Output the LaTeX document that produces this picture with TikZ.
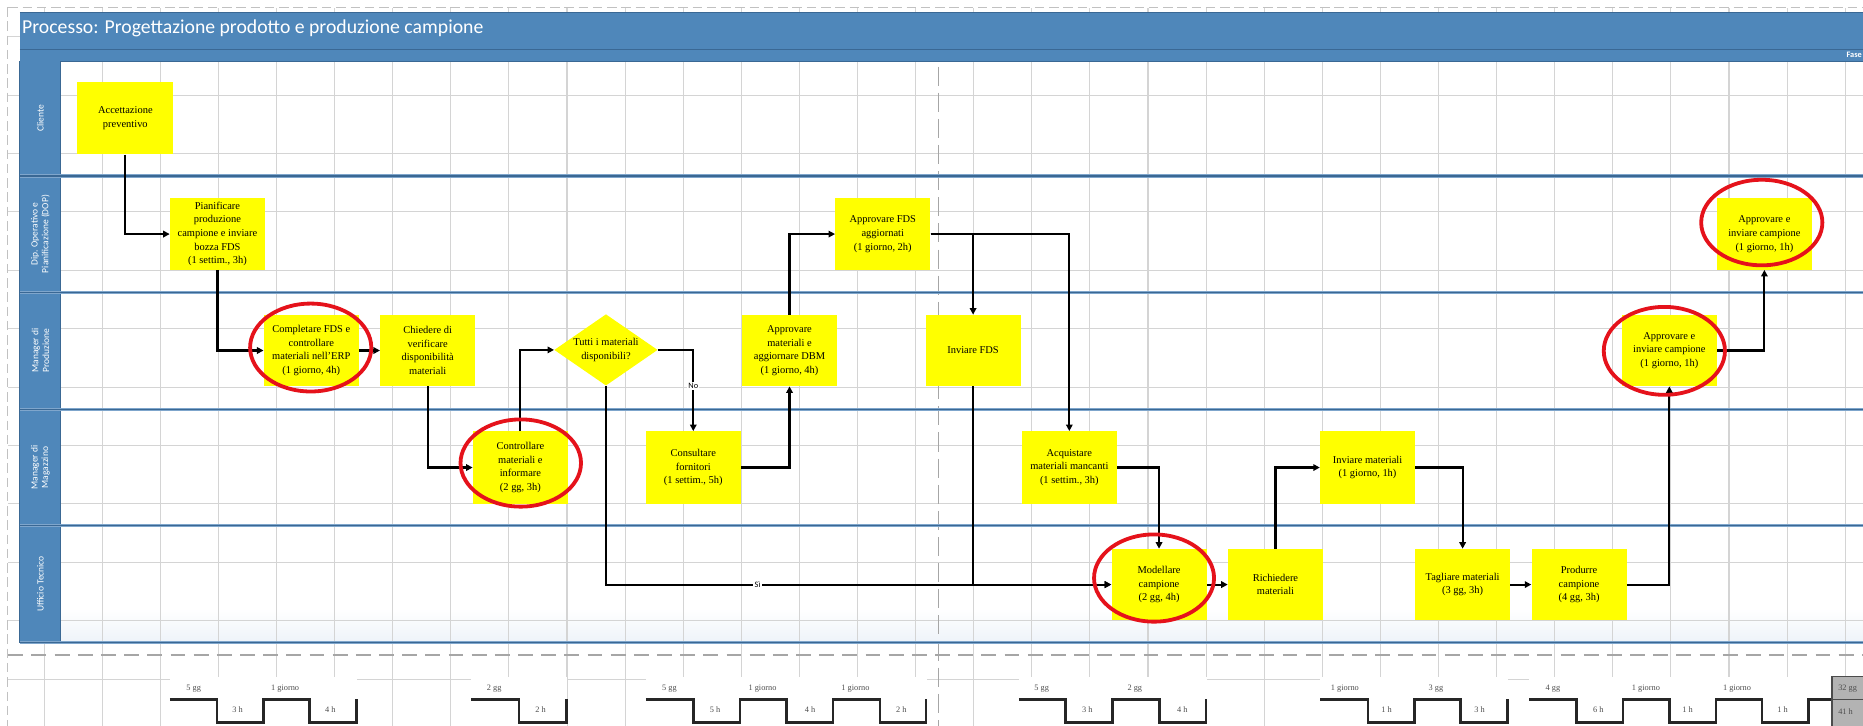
\documentclass[tikz,border=0pt]{standalone}
\usepackage{fontspec}
\setmainfont{Liberation Serif}
\newfontfamily\titlefont{Carlito}
\usetikzlibrary{arrows.meta,shapes.geometric}

\definecolor{hdrblue}{HTML}{4F87BA}
\definecolor{hdrdark}{HTML}{3A6894}
\definecolor{lanelight}{HTML}{7FA6CC}
\definecolor{gridgray}{HTML}{D4D4D4}
\definecolor{dashgray}{HTML}{A6A6A6}
\definecolor{boxyellow}{HTML}{FFFF00}
\definecolor{ringred}{HTML}{E5121B}
\definecolor{tlgray}{HTML}{B3B3B3}
\definecolor{tltext}{HTML}{4D4D4D}
\definecolor{lanefade}{HTML}{EEF3F9}

\tikzset{
  task/.style={fill=boxyellow, inner sep=0pt, minimum width=80pt, minimum height=60pt,
    align=center, font=\fontsize{8.8}{11.5}\selectfont},
  decision/.style={diamond, fill=boxyellow, inner sep=0pt, minimum width=87pt, minimum height=60pt},
  dtext/.style={align=center, inner sep=0pt, font=\fontsize{8.8}{12.5}\selectfont},
  flow/.style={draw=black, line width=1.8pt, line join=miter, -{Triangle[length=5.5pt,width=5.5pt]}},
  ring/.style={draw=ringred, line width=3.2pt},
  lanelabel/.style={rotate=90, text=white, inner sep=0pt, align=center,
    font=\titlefont\fontsize{8}{9}\selectfont},
  edgelabel/.style={fill=white, inner sep=1pt, font=\titlefont\fontsize{7}{8}\selectfont},
  tllabel/.style={inner sep=0pt, text=tltext, font=\fontsize{7}{8}\selectfont},
  wave/.style={draw=black!85, line width=2.2pt, line join=miter},
  gridline/.style={draw=gridgray, line width=0.9pt},
  lanesep/.style={draw=lanelight, line width=2.8pt},
  lanecore/.style={draw=hdrdark, line width=1.1pt},
}

\begin{document}
\begin{tikzpicture}[x=1pt,y=-1pt]
\useasboundingbox (0,0) rectangle (1568,611);
\clip (0,0) rectangle (1568,611);
\fill[white] (0,0) rectangle (1568,611);

% fade at bottom of last lane
\shade[top color=white, bottom color=lanefade] (51,512) rectangle (1580,541);

% grid
\foreach \k in {0,...,31} \draw[gridline] ({37.1+48.9*\k},7) -- ({37.1+48.9*\k},611);
\foreach \k in {0,...,11} \draw[gridline] (7,{30.9+49.15*\k}) -- (1568,{30.9+49.15*\k});

% page break lines
\draw[dashgray!70, line width=0.8pt, dash pattern=on 8pt off 4pt] (7,6) -- (1568,6);
\draw[dashgray!70, line width=0.8pt, dash pattern=on 8pt off 4pt] (6.7,6) -- (6.7,611);

% phase separator and bottom dashed line
\draw[dashgray, line width=1.2pt, dash pattern=on 16pt off 6pt] (790,56) -- (790,611);
\draw[dashgray, line width=1.5pt, dash pattern=on 12.5pt off 7pt] (7,551.4) -- (1568,551.4);

% title bar
\fill[hdrblue] (16.7,10.4) rectangle (1580,51.4);
\draw[hdrdark, line width=0.8pt] (16.7,10.4) -- (1580,10.4);
\draw[hdrdark, line width=0.8pt] (16.7,42) -- (1580,42);
\draw[hdrdark, line width=0.8pt] (16.7,51.4) -- (1580,51.4);
\node[anchor=base west, inner sep=0pt, text=white, font=\titlefont\fontsize{16.6}{18}\selectfont] (title) at (18.5,28.5)
  {Processo: Progettazione prodotto e produzione campione};
\node[anchor=west, inner sep=0pt, text=white, font=\titlefont\bfseries\fontsize{7}{8}\selectfont] (fase) at (1554,46.5) {Fase};

% lane column
\fill[hdrblue] (16.7,51.4) rectangle (51,541);
\draw[hdrdark, line width=0.8pt] (16.7,51.4) -- (16.7,541);
\draw[hdrdark, line width=0.8pt] (51,51.4) -- (51,541);

% lane separators
\foreach \yy in {148,246.4,344.5,442.5,541} {
  \draw[lanesep] (16.7,\yy) -- (1580,\yy);
  \draw[lanecore] (16.7,\yy) -- (1580,\yy);
}

% lane labels
\node[lanelabel] (lCli) at (34,99.5) {Cliente};
\node[lanelabel] (lDop) at (34,197) {Dip. Operativo e\\Pianificazione (DOP)};
\node[lanelabel] (lMp) at (34,295) {Manager di\\Produzione};
\node[lanelabel] (lMm) at (34,393.5) {Manager di\\Magazzino};
\node[lanelabel] (lUt) at (34,491.5) {Ufficio Tecnico};

% timeline backgrounds
\fill[white] (143,569.6) rectangle (300.5,611);
\fill[white] (396.7,569.6) rectangle (477.5,611);
\fill[white] (543.5,569.6) rectangle (780.5,611);
\fill[white] (857.5,569.6) rectangle (1016,611);
\fill[white] (1111.3,569.6) rectangle (1269.5,611);
\fill[white] (1287,569.6) rectangle (1542,611);

% waveforms
\draw[wave] (143,588.6) -| (182.7,608.3) -| (221.7,588.6) -| (260.7,608.3) -| (300,588.6);
\draw[wave] (396.7,588.6) -| (436.7,608.3) -| (476.7,588.6);
\draw[wave] (543.5,588.6) -| (583.5,608.3) -| (622.8,588.6) -| (661.8,608.3) -| (701.1,588.6) -| (740.8,608.3) -| (779.5,588.6);
\draw[wave] (857.5,588.6) -| (896.8,608.3) -| (936.1,588.6) -| (975.8,608.3) -| (1015.1,588.6);
\draw[wave] (1111.3,588.6) -| (1151.3,608.3) -| (1190.3,588.6) -| (1229.3,608.3) -| (1268.6,588.6);
\draw[wave] (1287,588.6) -| (1327,608.3) -| (1366,588.6) -| (1405.3,608.3) -| (1444.3,588.6) -| (1483,608.3) -| (1522,588.6) -- (1545,588.6);

% timeline labels
\node[tllabel] (w1) at (163,579.4) {5 gg};
\node[tllabel] (w2) at (200,597.6) {3 h};
\node[tllabel] (w3) at (240,579.4) {1 giorno};
\node[tllabel] (w4) at (278,597.6) {4 h};
\node[tllabel] (w5) at (416,579.4) {2 gg};
\node[tllabel] (w6) at (455,597.6) {2 h};
\node[tllabel] (w7) at (563.5,579.4) {5 gg};
\node[tllabel] (w8) at (601.8,597.6) {5 h};
\node[tllabel] (w9) at (641.8,579.4) {1 giorno};
\node[tllabel] (w10) at (681.8,597.6) {4 h};
\node[tllabel] (w11) at (720,579.4) {1 giorno};
\node[tllabel] (w12) at (758.5,597.6) {2 h};
\node[tllabel] (w13) at (876.8,579.4) {5 gg};
\node[tllabel] (w14) at (915.1,597.6) {3 h};
\node[tllabel] (w15) at (955.1,579.4) {2 gg};
\node[tllabel] (w16) at (995.1,597.6) {4 h};
\node[tllabel] (w17) at (1131.9,579.4) {1 giorno};
\node[tllabel] (w18) at (1167,597.6) {1 h};
\node[tllabel] (w19) at (1208.6,579.4) {3 gg};
\node[tllabel] (w20) at (1245.3,597.6) {3 h};
\node[tllabel] (w21) at (1307,579.4) {4 gg};
\node[tllabel] (w22) at (1345.3,597.6) {6 h};
\node[tllabel] (w23) at (1385.3,579.4) {1 giorno};
\node[tllabel] (w24) at (1420.3,597.6) {1 h};
\node[tllabel] (w25) at (1462,579.4) {1 giorno};
\node[tllabel] (w26) at (1500.3,597.6) {1 h};

% totals box
\draw[fill=tlgray, draw=black!70, line width=1.2pt] (1542,569.6) rectangle (1580,612);
\draw[draw=black!70, line width=1pt] (1542,589) -- (1580,589);
\node[tllabel, anchor=west] (totgg) at (1547,579.4) {32 gg};
\node[tllabel, anchor=west] (toth) at (1547,599) {41 h};

% tasks
\node[task, minimum width=81pt, minimum height=61pt] (acc) at (105.5,99.5) {Accettazione\\preventivo};
\node[task] (pian) at (183,197) {Pianificare\\produzione\\campione e inviare\\bozza FDS\\(1 settim., 3h)};
\node[task] (comp) at (262,295) {Completare FDS e\\controllare\\materiali nell'ERP\\(1 giorno, 4h)};
\node[task] (chied) at (360,295) {Chiedere di\\verificare\\disponibilità\\materiali};
\node[decision] (dia) at (510,294.5) {};
\node[dtext] (diatext) at (510,294.5) {Tutti i materiali\\disponibili?};
\node[task, minimum height=61pt] (contr) at (438,393.5) {Controllare\\materiali e\\informare\\(2 gg, 3h)};
\node[task, minimum height=61pt] (cons) at (583.5,393.5) {Consultare\\fornitori\\(1 settim., 5h)};
\node[task] (appmat) at (664.5,295) {Approvare\\materiali e\\aggiornare DBM\\(1 giorno, 4h)};
\node[task] (appfds) at (743,197) {Approvare FDS\\aggiornati\\(1 giorno, 2h)};
\node[task] (invfds) at (819,295) {Inviare FDS};
\node[task, minimum height=61pt] (acq) at (900,393.5) {Acquistare\\materiali mancanti\\(1 settim., 3h)};
\node[task] (mod) at (975.5,492) {Modellare\\campione\\(2 gg, 4h)};
\node[task] (rich) at (1073.5,492) {Richiedere\\materiali};
\node[task, minimum height=61pt] (invmat) at (1151,393.5) {Inviare materiali\\(1 giorno, 1h)};
\node[task] (tagl) at (1231,492) {Tagliare materiali\\(3 gg, 3h)};
\node[task] (prod) at (1329,492) {Produrre\\campione\\(4 gg, 3h)};
\node[task] (appmp) at (1405,295) {Approvare e\\inviare campione\\(1 giorno, 1h)};
\node[task] (appdop) at (1485,197) {Approvare e\\inviare campione\\(1 giorno, 1h)};

% connectors
\draw[flow] (acc.south) |- (pian.west);
\draw[flow] (pian.south) |- (comp.west);
\draw[flow] (comp.east) -- (chied.west);
\draw[flow] (chied.south) |- (contr.west);
\draw[flow] (contr.north) |- (dia.west);
\draw[flow] (dia.east) -| node[edgelabel, pos=0.72] (lblno) {No} (cons.north);
\draw[flow] (dia.south) |- node[edgelabel, pos=0.65] (lblsi) {Sì} (mod.west);
\draw[flow] (cons.east) -| (appmat.south);
\draw[flow] (appmat.north) |- (appfds.west);
\draw[flow] (appfds.east) -| (invfds.north);
\draw[flow] (appfds.east) -| (acq.north);
\draw[flow] (invfds.south) |- (mod.west);
\draw[flow] (acq.east) -| (mod.north);
\draw[flow] (mod.east) -- (rich.west);
\draw[flow] (rich.north) |- (invmat.west);
\draw[flow] (invmat.east) -| (tagl.north);
\draw[flow] (tagl.east) -- (prod.west);
\draw[flow] (prod.east) -| (appmp.south);
\draw[flow] (appmp.east) -| (appdop.south);

% highlight rings
\draw[ring] (261.5,292.5) ellipse [x radius=51pt, y radius=37pt];
\draw[ring] (438.3,389.7) ellipse [x radius=50.7pt, y radius=36.7pt];
\draw[ring] (971.3,486.5) ellipse [x radius=50.5pt, y radius=36.7pt];
\draw[ring] (1400.8,295.3) ellipse [x radius=51pt, y radius=37pt];
\draw[ring] (1482.8,187.3) ellipse [x radius=51pt, y radius=36pt];
\end{tikzpicture}
\end{document}
